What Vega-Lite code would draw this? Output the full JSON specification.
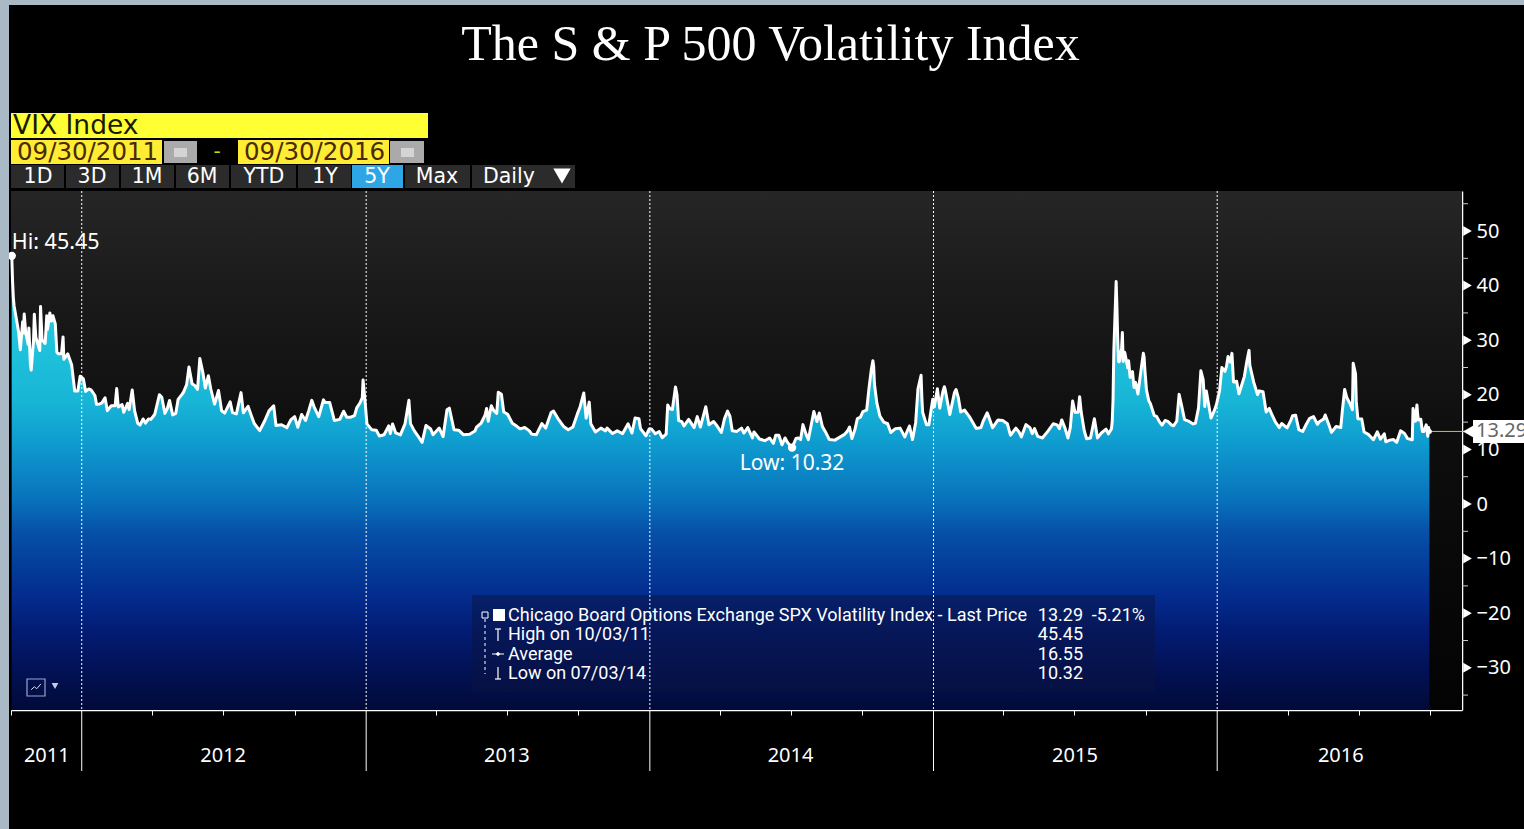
{
"$schema":"https://vega.github.io/schema/vega-lite/v6.json",
"width":1451,"height":519,
"autosize":{"type":"none"},
"padding":{"left":11,"top":191,"right":62,"bottom":119},
"background":"#000000",
"title":{"text":"The S & P 500 Volatility Index","font":"Liberation Serif","fontSize":50,"fontWeight":"normal","color":"#ffffff","anchor":"middle","frame":"group","dx":34,"offset":-110,"baseline":"alphabetic"},
"config":{"view":{"stroke":null},"text":{"font":"Noto Sans","color":"#ffffff"}},
"datasets":{
"vix":[
{"d":"2011-10-03","v":45.45},{"d":"2011-10-04","v":40.82},{"d":"2011-10-05","v":37.81},{"d":"2011-10-06","v":36.27},{"d":"2011-10-10","v":33.02},{"d":"2011-10-12","v":31.26},{"d":"2011-10-14","v":28.24},{"d":"2011-10-17","v":33.39},{"d":"2011-10-18","v":31.32},{"d":"2011-10-19","v":34.78},{"d":"2011-10-21","v":31.32},{"d":"2011-10-24","v":29.26},{"d":"2011-10-25","v":32.22},{"d":"2011-10-27","v":25.46},{"d":"2011-10-28","v":24.53},{"d":"2011-10-31","v":29.96},{"d":"2011-11-01","v":34.77},{"d":"2011-11-03","v":30.5},{"d":"2011-11-08","v":28.12},{"d":"2011-11-09","v":36.16},{"d":"2011-11-11","v":30.04},{"d":"2011-11-15","v":29.4},{"d":"2011-11-17","v":34.5},{"d":"2011-11-18","v":32},{"d":"2011-11-21","v":35},{"d":"2011-11-23","v":33.5},{"d":"2011-11-25","v":34.47},{"d":"2011-11-28","v":33},{"d":"2011-11-30","v":27.8},{"d":"2011-12-02","v":27.5},{"d":"2011-12-06","v":27.5},{"d":"2011-12-08","v":30.6},{"d":"2011-12-09","v":26.5},{"d":"2011-12-14","v":27.5},{"d":"2011-12-19","v":25.5},{"d":"2011-12-23","v":20.7},{"d":"2011-12-27","v":20.7},{"d":"2011-12-30","v":23.4},
{"d":"2012-01-03","v":22.97},{"d":"2012-01-06","v":20.63},{"d":"2012-01-10","v":21.07},{"d":"2012-01-13","v":20.91},{"d":"2012-01-18","v":19.87},{"d":"2012-01-20","v":18.28},{"d":"2012-01-24","v":18.31},{"d":"2012-01-27","v":18.53},{"d":"2012-01-31","v":19.44},{"d":"2012-02-03","v":17.1},{"d":"2012-02-08","v":18},{"d":"2012-02-13","v":18},{"d":"2012-02-15","v":21.14},{"d":"2012-02-17","v":17.78},{"d":"2012-02-22","v":18.2},{"d":"2012-02-24","v":16.8},{"d":"2012-02-29","v":18.43},{"d":"2012-03-02","v":17.29},{"d":"2012-03-06","v":20.87},{"d":"2012-03-09","v":17.11},{"d":"2012-03-13","v":14.8},{"d":"2012-03-16","v":14.47},{"d":"2012-03-20","v":15.58},{"d":"2012-03-23","v":14.82},{"d":"2012-03-27","v":15.59},{"d":"2012-03-30","v":15.5},{"d":"2012-04-04","v":16.44},{"d":"2012-04-10","v":20.02},{"d":"2012-04-13","v":19.55},{"d":"2012-04-17","v":16.6},{"d":"2012-04-20","v":17.44},{"d":"2012-04-23","v":18.97},{"d":"2012-04-27","v":16.32},{"d":"2012-05-01","v":16.6},{"d":"2012-05-04","v":19.16},{"d":"2012-05-09","v":20.08},{"d":"2012-05-11","v":20.5},{"d":"2012-05-15","v":21.87},{"d":"2012-05-18","v":25.1},{"d":"2012-05-22","v":22},{"d":"2012-05-25","v":21.76},{"d":"2012-05-29","v":21},{"d":"2012-06-01","v":26.66},{"d":"2012-06-05","v":24},{"d":"2012-06-08","v":21.23},{"d":"2012-06-12","v":23.5},{"d":"2012-06-15","v":21.11},{"d":"2012-06-20","v":18.3},{"d":"2012-06-25","v":20.8},{"d":"2012-06-29","v":17.08},{"d":"2012-07-03","v":16.66},{"d":"2012-07-10","v":18.7},{"d":"2012-07-13","v":16.74},{"d":"2012-07-18","v":16.5},{"d":"2012-07-24","v":20.4},{"d":"2012-07-27","v":16.7},{"d":"2012-08-02","v":17.9},{"d":"2012-08-07","v":15.9},{"d":"2012-08-10","v":14.74},{"d":"2012-08-17","v":13.45},{"d":"2012-08-23","v":15.1},{"d":"2012-08-29","v":17.06},{"d":"2012-09-04","v":17.98},{"d":"2012-09-07","v":14.38},{"d":"2012-09-14","v":14.51},{"d":"2012-09-21","v":13.98},{"d":"2012-09-26","v":15.4},{"d":"2012-10-01","v":16},{"d":"2012-10-05","v":14.06},{"d":"2012-10-10","v":16.4},{"d":"2012-10-15","v":15.3},{"d":"2012-10-19","v":17.06},{"d":"2012-10-23","v":18.99},{"d":"2012-10-26","v":17.81},{"d":"2012-11-01","v":16},{"d":"2012-11-07","v":19.08},{"d":"2012-11-09","v":18.61},{"d":"2012-11-15","v":18.6},{"d":"2012-11-21","v":15.3},{"d":"2012-11-28","v":15.5},{"d":"2012-12-03","v":17},{"d":"2012-12-07","v":15.9},{"d":"2012-12-12","v":15.9},{"d":"2012-12-17","v":16.2},{"d":"2012-12-20","v":17.67},{"d":"2012-12-24","v":18.5},{"d":"2012-12-27","v":19.47},{"d":"2012-12-28","v":22.72},{"d":"2012-12-31","v":18.02},
{"d":"2013-01-02","v":14.68},{"d":"2013-01-08","v":13.62},{"d":"2013-01-14","v":13.5},{"d":"2013-01-18","v":12.46},{"d":"2013-01-24","v":12.69},{"d":"2013-01-30","v":14.32},{"d":"2013-02-01","v":12.9},{"d":"2013-02-04","v":14.67},{"d":"2013-02-08","v":13.02},{"d":"2013-02-14","v":12.66},{"d":"2013-02-20","v":14.68},{"d":"2013-02-25","v":18.99},{"d":"2013-02-27","v":14.73},{"d":"2013-03-04","v":13.4},{"d":"2013-03-08","v":12.59},{"d":"2013-03-14","v":11.3},{"d":"2013-03-19","v":14.39},{"d":"2013-03-25","v":13.74},{"d":"2013-03-28","v":12.7},{"d":"2013-04-05","v":13.92},{"d":"2013-04-10","v":12.36},{"d":"2013-04-15","v":17.27},{"d":"2013-04-18","v":17.56},{"d":"2013-04-24","v":13.6},{"d":"2013-04-30","v":13.52},{"d":"2013-05-06","v":12.7},{"d":"2013-05-14","v":12.77},{"d":"2013-05-21","v":13.37},{"d":"2013-05-23","v":14.07},{"d":"2013-05-29","v":14.83},{"d":"2013-06-03","v":16.27},{"d":"2013-06-05","v":17.5},{"d":"2013-06-07","v":15.14},{"d":"2013-06-11","v":18.0},{"d":"2013-06-14","v":17.15},{"d":"2013-06-18","v":16.61},{"d":"2013-06-20","v":20.49},{"d":"2013-06-24","v":20.11},{"d":"2013-06-27","v":16.86},{"d":"2013-07-02","v":16.44},{"d":"2013-07-08","v":14.78},{"d":"2013-07-12","v":14.42},{"d":"2013-07-18","v":13.77},{"d":"2013-07-24","v":14.0},{"d":"2013-07-30","v":13.39},{"d":"2013-08-02","v":12.8},{"d":"2013-08-08","v":12.7},{"d":"2013-08-15","v":14.73},{"d":"2013-08-20","v":13.9},{"d":"2013-08-27","v":16.77},{"d":"2013-08-30","v":17.01},{"d":"2013-09-05","v":15.6},{"d":"2013-09-12","v":14.2},{"d":"2013-09-18","v":13.59},{"d":"2013-09-24","v":14.1},{"d":"2013-09-30","v":16.6},{"d":"2013-10-03","v":17.67},{"d":"2013-10-08","v":20.34},{"d":"2013-10-11","v":15.72},{"d":"2013-10-15","v":18.66},{"d":"2013-10-17","v":14.7},{"d":"2013-10-23","v":13.2},{"d":"2013-10-30","v":13.9},{"d":"2013-11-05","v":13.4},{"d":"2013-11-07","v":13.9},{"d":"2013-11-14","v":12.9},{"d":"2013-11-20","v":13.4},{"d":"2013-11-27","v":12.9},{"d":"2013-12-04","v":14.7},{"d":"2013-12-09","v":13.0},{"d":"2013-12-13","v":15.76},{"d":"2013-12-18","v":15.6},{"d":"2013-12-20","v":13.8},{"d":"2013-12-27","v":12.5},{"d":"2013-12-31","v":13.72},
{"d":"2014-01-03","v":13.76},{"d":"2014-01-08","v":12.87},{"d":"2014-01-13","v":13.28},{"d":"2014-01-17","v":12.14},{"d":"2014-01-22","v":12.8},{"d":"2014-01-24","v":18.14},{"d":"2014-01-27","v":17.42},{"d":"2014-01-30","v":17.3},{"d":"2014-02-03","v":21.44},{"d":"2014-02-05","v":19.95},{"d":"2014-02-07","v":15.29},{"d":"2014-02-11","v":15.1},{"d":"2014-02-14","v":14.3},{"d":"2014-02-20","v":15.5},{"d":"2014-02-27","v":14.0},{"d":"2014-03-03","v":16.0},{"d":"2014-03-07","v":14.1},{"d":"2014-03-14","v":17.82},{"d":"2014-03-18","v":14.5},{"d":"2014-03-24","v":15.1},{"d":"2014-03-28","v":14.4},{"d":"2014-04-03","v":13.1},{"d":"2014-04-07","v":15.6},{"d":"2014-04-11","v":17.03},{"d":"2014-04-14","v":16.1},{"d":"2014-04-17","v":13.4},{"d":"2014-04-23","v":13.3},{"d":"2014-04-29","v":13.9},{"d":"2014-05-02","v":13.0},{"d":"2014-05-07","v":14.0},{"d":"2014-05-13","v":12.1},{"d":"2014-05-15","v":13.2},{"d":"2014-05-22","v":11.9},{"d":"2014-05-29","v":11.6},{"d":"2014-06-04","v":12.1},{"d":"2014-06-09","v":11.1},{"d":"2014-06-12","v":12.6},{"d":"2014-06-16","v":12.6},{"d":"2014-06-20","v":10.85},{"d":"2014-06-24","v":12.1},{"d":"2014-06-27","v":11.3},{"d":"2014-07-03","v":10.32},{"d":"2014-07-08","v":12.0},{"d":"2014-07-11","v":12.1},{"d":"2014-07-14","v":11.8},{"d":"2014-07-17","v":14.54},{"d":"2014-07-21","v":12.8},{"d":"2014-07-24","v":11.8},{"d":"2014-07-31","v":16.95},{"d":"2014-08-04","v":15.1},{"d":"2014-08-07","v":16.66},{"d":"2014-08-11","v":14.2},{"d":"2014-08-15","v":13.2},{"d":"2014-08-20","v":11.8},{"d":"2014-08-27","v":11.7},{"d":"2014-09-02","v":12.2},{"d":"2014-09-08","v":12.7},{"d":"2014-09-12","v":13.3},{"d":"2014-09-15","v":14.1},{"d":"2014-09-18","v":12.0},{"d":"2014-09-22","v":13.7},{"d":"2014-09-25","v":15.64},{"d":"2014-09-29","v":15.9},{"d":"2014-10-02","v":16.9},{"d":"2014-10-07","v":17.2},{"d":"2014-10-10","v":21.24},{"d":"2014-10-13","v":24.64},{"d":"2014-10-15","v":26.25},{"d":"2014-10-16","v":25.2},{"d":"2014-10-17","v":21.99},{"d":"2014-10-20","v":18.57},{"d":"2014-10-24","v":16.1},{"d":"2014-10-29","v":15},{"d":"2014-11-03","v":14.7},{"d":"2014-11-07","v":13.1},{"d":"2014-11-13","v":13.8},{"d":"2014-11-19","v":13.9},{"d":"2014-11-25","v":12.3},{"d":"2014-12-01","v":14.29},{"d":"2014-12-05","v":11.8},{"d":"2014-12-09","v":14.9},{"d":"2014-12-12","v":21.08},{"d":"2014-12-16","v":23.57},{"d":"2014-12-17","v":19.44},{"d":"2014-12-18","v":16.81},{"d":"2014-12-23","v":14.5},{"d":"2014-12-26","v":14.5},{"d":"2014-12-31","v":19.2},
{"d":"2015-01-02","v":17.79},{"d":"2015-01-06","v":21.12},{"d":"2015-01-09","v":17.55},{"d":"2015-01-13","v":20.56},{"d":"2015-01-15","v":21.48},{"d":"2015-01-16","v":20.95},{"d":"2015-01-22","v":16.4},{"d":"2015-01-28","v":20.44},{"d":"2015-01-30","v":20.97},{"d":"2015-02-02","v":19.43},{"d":"2015-02-05","v":16.85},{"d":"2015-02-10","v":17.2},{"d":"2015-02-17","v":15.8},{"d":"2015-02-25","v":13.84},{"d":"2015-03-03","v":14.0},{"d":"2015-03-06","v":15.2},{"d":"2015-03-11","v":16.69},{"d":"2015-03-13","v":16.0},{"d":"2015-03-18","v":13.97},{"d":"2015-03-25","v":15.4},{"d":"2015-03-31","v":15.3},{"d":"2015-04-06","v":14.7},{"d":"2015-04-10","v":12.6},{"d":"2015-04-17","v":13.9},{"d":"2015-04-21","v":13.2},{"d":"2015-04-24","v":12.3},{"d":"2015-04-30","v":14.55},{"d":"2015-05-05","v":14.0},{"d":"2015-05-08","v":12.9},{"d":"2015-05-11","v":13.8},{"d":"2015-05-15","v":12.4},{"d":"2015-05-21","v":12.1},{"d":"2015-05-28","v":13.3},{"d":"2015-06-04","v":14.7},{"d":"2015-06-09","v":14.5},{"d":"2015-06-12","v":13.8},{"d":"2015-06-15","v":15.4},{"d":"2015-06-19","v":13.96},{"d":"2015-06-23","v":12.1},{"d":"2015-06-26","v":14.0},{"d":"2015-06-29","v":18.85},{"d":"2015-07-02","v":16.8},{"d":"2015-07-06","v":16.8},{"d":"2015-07-08","v":19.66},{"d":"2015-07-10","v":16.83},{"d":"2015-07-14","v":13.37},{"d":"2015-07-17","v":11.95},{"d":"2015-07-22","v":12.1},{"d":"2015-07-27","v":15.6},{"d":"2015-07-31","v":12.1},{"d":"2015-08-05","v":13.0},{"d":"2015-08-11","v":13.7},{"d":"2015-08-14","v":12.83},{"d":"2015-08-18","v":13.79},{"d":"2015-08-19","v":15.25},{"d":"2015-08-20","v":19.14},{"d":"2015-08-21","v":28.03},{"d":"2015-08-24","v":40.74},{"d":"2015-08-25","v":36.02},{"d":"2015-08-26","v":30.32},{"d":"2015-08-27","v":26.1},{"d":"2015-08-28","v":26.05},{"d":"2015-08-31","v":28.43},{"d":"2015-09-01","v":31.4},{"d":"2015-09-02","v":26.09},{"d":"2015-09-04","v":27.8},{"d":"2015-09-08","v":24.9},{"d":"2015-09-09","v":26.23},{"d":"2015-09-11","v":23.2},{"d":"2015-09-14","v":24.25},{"d":"2015-09-16","v":21.35},{"d":"2015-09-18","v":22.28},{"d":"2015-09-21","v":20.14},{"d":"2015-09-24","v":23.47},{"d":"2015-09-28","v":27.63},{"d":"2015-09-29","v":26.83},{"d":"2015-09-30","v":24.5},{"d":"2015-10-02","v":20.9},{"d":"2015-10-05","v":18.9},{"d":"2015-10-07","v":18.4},{"d":"2015-10-12","v":16.2},{"d":"2015-10-15","v":16.05},{"d":"2015-10-19","v":15.0},{"d":"2015-10-22","v":14.45},{"d":"2015-10-26","v":15.3},{"d":"2015-10-30","v":15.07},{"d":"2015-11-03","v":14.5},{"d":"2015-11-06","v":14.33},{"d":"2015-11-10","v":15.2},{"d":"2015-11-13","v":20.08},{"d":"2015-11-16","v":18.16},{"d":"2015-11-20","v":15.47},{"d":"2015-11-25","v":15.19},{"d":"2015-12-01","v":14.67},{"d":"2015-12-04","v":14.8},{"d":"2015-12-08","v":17.6},{"d":"2015-12-11","v":24.39},{"d":"2015-12-14","v":22.73},{"d":"2015-12-16","v":17.86},{"d":"2015-12-18","v":20.7},{"d":"2015-12-24","v":15.74},{"d":"2015-12-28","v":17.0},{"d":"2015-12-31","v":18.21},
{"d":"2016-01-04","v":20.7},{"d":"2016-01-07","v":24.99},{"d":"2016-01-11","v":24.3},{"d":"2016-01-13","v":25.22},{"d":"2016-01-15","v":27.02},{"d":"2016-01-18","v":26.0},{"d":"2016-01-20","v":27.59},{"d":"2016-01-22","v":22.34},{"d":"2016-01-26","v":22.5},{"d":"2016-01-29","v":20.2},{"d":"2016-02-02","v":21.98},{"d":"2016-02-05","v":23.38},{"d":"2016-02-08","v":26},{"d":"2016-02-11","v":28.14},{"d":"2016-02-12","v":25.4},{"d":"2016-02-17","v":22.31},{"d":"2016-02-22","v":20},{"d":"2016-02-24","v":20.72},{"d":"2016-02-29","v":20.55},{"d":"2016-03-04","v":16.86},{"d":"2016-03-08","v":17.5},{"d":"2016-03-11","v":16.5},{"d":"2016-03-16","v":14.99},{"d":"2016-03-21","v":14.0},{"d":"2016-03-24","v":14.74},{"d":"2016-03-31","v":13.95},{"d":"2016-04-05","v":15.42},{"d":"2016-04-07","v":16.16},{"d":"2016-04-11","v":16.26},{"d":"2016-04-15","v":13.62},{"d":"2016-04-20","v":13.28},{"d":"2016-04-25","v":14.7},{"d":"2016-04-29","v":15.7},{"d":"2016-05-04","v":16},{"d":"2016-05-09","v":14.6},{"d":"2016-05-11","v":15},{"d":"2016-05-17","v":15.57},{"d":"2016-05-19","v":16.3},{"d":"2016-05-24","v":14.4},{"d":"2016-05-27","v":13.12},{"d":"2016-06-02","v":14.2},{"d":"2016-06-08","v":14.0},{"d":"2016-06-10","v":17.03},{"d":"2016-06-13","v":20.97},{"d":"2016-06-16","v":19.4},{"d":"2016-06-20","v":18.37},{"d":"2016-06-23","v":17.25},{"d":"2016-06-24","v":25.76},{"d":"2016-06-27","v":23.85},{"d":"2016-06-28","v":18.75},{"d":"2016-06-30","v":15.63},{"d":"2016-07-05","v":15.58},{"d":"2016-07-08","v":13.2},{"d":"2016-07-14","v":12.7},{"d":"2016-07-20","v":11.77},{"d":"2016-07-25","v":13.2},{"d":"2016-07-29","v":11.87},{"d":"2016-08-03","v":12.86},{"d":"2016-08-05","v":11.39},{"d":"2016-08-10","v":11.7},{"d":"2016-08-15","v":11.81},{"d":"2016-08-19","v":11.3},{"d":"2016-08-24","v":13.4},{"d":"2016-08-29","v":12.9},{"d":"2016-09-02","v":11.98},{"d":"2016-09-08","v":11.76},{"d":"2016-09-09","v":17.5},{"d":"2016-09-12","v":15.16},{"d":"2016-09-14","v":18.14},{"d":"2016-09-15","v":16.3},{"d":"2016-09-16","v":15.37},{"d":"2016-09-19","v":15.53},{"d":"2016-09-21","v":13.3},{"d":"2016-09-23","v":13.3},{"d":"2016-09-26","v":14.5},{"d":"2016-09-28","v":12.39},{"d":"2016-09-29","v":14.02},{"d":"2016-09-30","v":13.29}],
"years":[{"d":"2012-01-01"},{"d":"2013-01-01"},{"d":"2014-01-01"},{"d":"2015-01-01"},{"d":"2016-01-01"}],
"yearLabels":[{"d":"2011-11-17","label":"2011"},{"d":"2012-07-01","label":"2012"},{"d":"2013-07-01","label":"2013"},{"d":"2014-07-01","label":"2014"},{"d":"2015-07-02","label":"2015"},{"d":"2016-06-08","label":"2016"}],
"majors":[{"v":50},{"v":40},{"v":30},{"v":20},{"v":10},{"v":0},{"v":-10},{"v":-20},{"v":-30}],
"minors":[{"v":55},{"v":45},{"v":35},{"v":25},{"v":15},{"v":5},{"v":-5},{"v":-15},{"v":-25},{"v":-35}],
"hiLow":[{"d":"2011-10-03","v":45.45,"label":"Hi: 45.45"},{"d":"2014-07-03","v":10.32,"label":"Low: 10.32"}],
"last":[{"d":"2016-09-30","v":13.29,"label":"13.29"}],
"one":[{}]
},
"layer":[
{"data":{"name":"one"},"mark":{"type":"rect","fill":{"gradient":"linear","x1":0,"y1":0,"x2":0,"y2":1,"stops":[{"offset":0,"color":"#262626"},{"offset":0.2,"color":"#1a1a1a"},{"offset":0.5,"color":"#0d0d0d"},{"offset":1,"color":"#030303"}]}},"encoding":{"x":{"value":0},"x2":{"value":1451},"y":{"value":0},"y2":{"value":519}}},
{"data":{"name":"vix"},"mark":{"type":"area","interpolate":"linear","color":{"gradient":"linear","x1":0,"y1":0,"x2":0,"y2":1,"stops":[{"offset":0,"color":"#2ad6e6"},{"offset":0.317,"color":"#18b6d6"},{"offset":0.405,"color":"#0f9ed0"},{"offset":0.537,"color":"#0872bc"},{"offset":0.61,"color":"#0650a8"},{"offset":0.685,"color":"#043c9a"},{"offset":0.758,"color":"#032a8c"},{"offset":0.824,"color":"#021c74"},{"offset":0.905,"color":"#021258"},{"offset":1,"color":"#010a38"}]}},
"encoding":{"x":{"field":"d","type":"temporal","title":null,"scale":{"type":"utc","domain":[{"year":2011,"month":10,"date":2,"utc":true},{"year":2016,"month":11,"date":11,"utc":true}]},
"axis":{"orient":"bottom","title":null,"labels":false,"grid":false,"domainColor":"#ffffff","domainWidth":1.5,"tickColor":"#ffffff","tickSize":5,"tickWidth":1,"values":[{"year":2011,"month":10,"date":2,"utc":true},{"year":2012,"month":4,"date":1,"utc":true},{"year":2012,"month":7,"date":1,"utc":true},{"year":2012,"month":10,"date":1,"utc":true},{"year":2013,"month":4,"date":1,"utc":true},{"year":2013,"month":7,"date":1,"utc":true},{"year":2013,"month":10,"date":1,"utc":true},{"year":2014,"month":4,"date":1,"utc":true},{"year":2014,"month":7,"date":1,"utc":true},{"year":2014,"month":10,"date":1,"utc":true},{"year":2015,"month":4,"date":1,"utc":true},{"year":2015,"month":7,"date":1,"utc":true},{"year":2015,"month":10,"date":1,"utc":true},{"year":2016,"month":4,"date":1,"utc":true},{"year":2016,"month":7,"date":1,"utc":true},{"year":2016,"month":10,"date":1,"utc":true}]}},
"y":{"field":"v","type":"quantitative","title":null,"scale":{"domain":[-37.73,57.33],"nice":false,"zero":false},
"axis":{"orient":"right","title":null,"grid":false,"values":[50,40,30,20,10,0,-10,-20,-30],"labels":true,"labelFont":"Noto Sans","labelFontSize":20,"labelColor":"#ffffff","labelPadding":14,"labelOverlap":false,"domainColor":"#ffffff","domainWidth":1.5,"ticks":false}},
"y2":{"datum":-37.73}}},
{"data":{"name":"vix"},"mark":{"type":"line","interpolate":"linear","color":"#ffffff","strokeWidth":3,"strokeJoin":"round"},"encoding":{"x":{"field":"d","type":"temporal"},"y":{"field":"v","type":"quantitative"}}},
{"data":{"name":"one"},"mark":{"type":"rect","fill":"#0a1440","fillOpacity":0.5},"encoding":{"x":{"value":461},"x2":{"value":1144},"y":{"value":404},"y2":{"value":501}}},
{"data":{"name":"years"},"mark":{"type":"rule","color":"#ffffff","strokeWidth":1,"strokeDash":[2,2]},"encoding":{"x":{"field":"d","type":"temporal"},"y":{"value":0},"y2":{"value":519}}},
{"data":{"name":"years"},"mark":{"type":"rule","color":"#ffffff","strokeWidth":1},"encoding":{"x":{"field":"d","type":"temporal"},"y":{"value":519},"y2":{"value":580}}},
{"data":{"name":"yearLabels"},"mark":{"type":"text","fontSize":20,"baseline":"middle","align":"center"},"encoding":{"x":{"field":"d","type":"temporal"},"y":{"value":565},"text":{"field":"label"}}},
{"data":{"name":"majors"},"mark":{"type":"point","shape":"triangle-right","filled":true,"color":"#ffffff","opacity":1,"size":100},"encoding":{"x":{"value":1456.5},"y":{"field":"v","type":"quantitative"}}},
{"data":{"name":"minors"},"mark":{"type":"rule","color":"#cccccc","strokeWidth":1},"encoding":{"x":{"value":1451},"x2":{"value":1457},"y":{"field":"v","type":"quantitative"}}},
{"data":{"name":"hiLow"},"mark":{"type":"point","filled":true,"color":"#ffffff","opacity":1,"size":70},"encoding":{"x":{"field":"d","type":"temporal"},"y":{"field":"v","type":"quantitative"}}},
{"data":{"name":"hiLow"},"transform":[{"filter":"datum.v > 40"}],"mark":{"type":"text","fontSize":21.5,"align":"left","baseline":"middle","dx":0,"dy":-13},"encoding":{"x":{"field":"d","type":"temporal"},"y":{"field":"v","type":"quantitative"},"text":{"field":"label"}}},
{"data":{"name":"hiLow"},"transform":[{"filter":"datum.v < 40"}],"mark":{"type":"text","fontSize":21,"align":"center","baseline":"middle","dy":16},"encoding":{"x":{"field":"d","type":"temporal"},"y":{"field":"v","type":"quantitative"},"text":{"field":"label"}}},
{"data":{"name":"last"},"mark":{"type":"rule","color":"#c8c820","strokeWidth":1},"encoding":{"x":{"field":"d","type":"temporal"},"x2":{"value":1456},"y":{"field":"v","type":"quantitative"}}},
{"data":{"name":"last"},"mark":{"type":"point","filled":true,"color":"#ffffff","opacity":1,"size":25},"encoding":{"x":{"field":"d","type":"temporal"},"y":{"field":"v","type":"quantitative"}}},
{"data":{"name":"last"},"mark":{"type":"point","shape":"triangle-left","filled":true,"color":"#ffffff","opacity":1,"size":530},"encoding":{"x":{"value":1462},"y":{"field":"v","type":"quantitative"}}},
{"data":{"name":"one"},"mark":{"type":"rect","fill":"#ffffff"},"encoding":{"x":{"value":1462},"x2":{"value":1513},"y":{"value":229},"y2":{"value":252}}},
{"data":{"name":"last"},"mark":{"type":"text","fontSize":20,"color":"#666666","align":"left","baseline":"middle"},"encoding":{"x":{"value":1465},"y":{"field":"v","type":"quantitative"},"text":{"field":"label"}}},

{"data":{"values":[{"label":"Chicago Board Options Exchange SPX Volatility Index  -  Last Price"}]},"mark":{"type":"text","font":"Roboto","fontSize":18,"align":"left","baseline":"middle"},"encoding":{"x":{"value":497},"y":{"value":425},"text":{"field":"label"}}},
{"data":{"values":[{"label":"13.29"}]},"mark":{"type":"text","font":"Roboto","fontSize":18,"align":"right","baseline":"middle"},"encoding":{"x":{"value":1072},"y":{"value":425},"text":{"field":"label"}}},
{"data":{"values":[{"label":"-5.21%"}]},"mark":{"type":"text","font":"Roboto","fontSize":18,"align":"right","baseline":"middle"},"encoding":{"x":{"value":1134},"y":{"value":425},"text":{"field":"label"}}},
{"data":{"values":[{"label":"High on 10/03/11"}]},"mark":{"type":"text","font":"Roboto","fontSize":18,"align":"left","baseline":"middle"},"encoding":{"x":{"value":497},"y":{"value":444},"text":{"field":"label"}}},
{"data":{"values":[{"label":"45.45"}]},"mark":{"type":"text","font":"Roboto","fontSize":18,"align":"right","baseline":"middle"},"encoding":{"x":{"value":1072},"y":{"value":444},"text":{"field":"label"}}},
{"data":{"values":[{"label":"Average"}]},"mark":{"type":"text","font":"Roboto","fontSize":18,"align":"left","baseline":"middle"},"encoding":{"x":{"value":497},"y":{"value":464},"text":{"field":"label"}}},
{"data":{"values":[{"label":"16.55"}]},"mark":{"type":"text","font":"Roboto","fontSize":18,"align":"right","baseline":"middle"},"encoding":{"x":{"value":1072},"y":{"value":464},"text":{"field":"label"}}},
{"data":{"values":[{"label":"Low on 07/03/14"}]},"mark":{"type":"text","font":"Roboto","fontSize":18,"align":"left","baseline":"middle"},"encoding":{"x":{"value":497},"y":{"value":483},"text":{"field":"label"}}},
{"data":{"values":[{"label":"10.32"}]},"mark":{"type":"text","font":"Roboto","fontSize":18,"align":"right","baseline":"middle"},"encoding":{"x":{"value":1072},"y":{"value":483},"text":{"field":"label"}}},
{"data":{"name":"one"},"mark":{"type":"rect","fill":"#ffffff"},"encoding":{"x":{"value":482},"x2":{"value":494},"y":{"value":418},"y2":{"value":430}}},
{"data":{"name":"one"},"mark":{"type":"rect","stroke":"#ffffff","strokeWidth":1,"fillOpacity":0},"encoding":{"x":{"value":471},"x2":{"value":477},"y":{"value":421},"y2":{"value":427}}},
{"data":{"name":"one"},"mark":{"type":"rule","color":"#ffffff","strokeWidth":1,"strokeDash":[3,3]},"encoding":{"x":{"value":474},"y":{"value":428},"y2":{"value":483}}},
{"data":{"name":"one"},"mark":{"type":"rule","color":"#ffffff","strokeWidth":1.2},"encoding":{"x":{"value":487},"y":{"value":438},"y2":{"value":450}}},
{"data":{"name":"one"},"mark":{"type":"rule","color":"#ffffff","strokeWidth":1.2},"encoding":{"x":{"value":484},"x2":{"value":490},"y":{"value":438}}},
{"data":{"name":"one"},"mark":{"type":"point","shape":"diamond","filled":true,"color":"#ffffff","opacity":1,"size":22},"encoding":{"x":{"value":487},"y":{"value":463}}},
{"data":{"name":"one"},"mark":{"type":"rule","color":"#ffffff","strokeWidth":1},"encoding":{"x":{"value":481},"x2":{"value":493},"y":{"value":463}}},
{"data":{"name":"one"},"mark":{"type":"rule","color":"#ffffff","strokeWidth":1.2},"encoding":{"x":{"value":487},"y":{"value":476},"y2":{"value":488}}},
{"data":{"name":"one"},"mark":{"type":"rule","color":"#ffffff","strokeWidth":1.2},"encoding":{"x":{"value":484},"x2":{"value":490},"y":{"value":488}}},

{"data":{"name":"one"},"mark":{"type":"rect","stroke":"#9aa4d0","strokeWidth":1.2,"fillOpacity":0},"encoding":{"x":{"value":16},"x2":{"value":34},"y":{"value":488},"y2":{"value":505}}},
{"data":{"name":"one"},"mark":{"type":"point","shape":"M-0.8,0.45L-0.25,-0.05L0.1,0.3L0.8,-0.5","filled":false,"color":"#d8dcf0","opacity":1,"size":150,"strokeWidth":1},"encoding":{"x":{"value":25},"y":{"value":496}}},
{"data":{"name":"one"},"mark":{"type":"point","shape":"triangle-down","filled":true,"color":"#c8cce0","opacity":1,"size":45},"encoding":{"x":{"value":44},"y":{"value":495}}},

{"data":{"name":"one"},"mark":{"type":"rect","fill":"#a9b9c6"},"encoding":{"x":{"value":-11},"x2":{"value":-2},"y":{"value":-191},"y2":{"value":638}}},
{"data":{"name":"one"},"mark":{"type":"rect","fill":"#a9b9c6"},"encoding":{"x":{"value":-11},"x2":{"value":1513},"y":{"value":-191},"y2":{"value":-186}}},

{"data":{"name":"one"},"mark":{"type":"rect","fill":"#ffff33"},"encoding":{"x":{"value":0},"x2":{"value":417},"y":{"value":-78},"y2":{"value":-53}}},
{"data":{"values":[{"label":"VIX Index"}]},"mark":{"type":"text","font":"DejaVu Sans","fontSize":26.5,"color":"#1a1a00","align":"left","baseline":"middle"},"encoding":{"x":{"value":2},"y":{"value":-65},"text":{"field":"label"}}},
{"data":{"name":"one"},"mark":{"type":"rect","fill":"#ffec33"},"encoding":{"x":{"value":0},"x2":{"value":151},"y":{"value":-51},"y2":{"value":-27}}},
{"data":{"name":"one"},"mark":{"type":"rect","fill":"#ffec33"},"encoding":{"x":{"value":227},"x2":{"value":378},"y":{"value":-51},"y2":{"value":-27}}},
{"data":{"values":[{"label":"09/30/2011"}]},"mark":{"type":"text","font":"DejaVu Sans","fontSize":24.5,"color":"#4a2a00","align":"left","baseline":"middle"},"encoding":{"x":{"value":6},"y":{"value":-38},"text":{"field":"label"}}},
{"data":{"values":[{"label":"09/30/2016"}]},"mark":{"type":"text","font":"DejaVu Sans","fontSize":24.5,"color":"#4a2a00","align":"left","baseline":"middle"},"encoding":{"x":{"value":233},"y":{"value":-38},"text":{"field":"label"}}},
{"data":{"values":[{"label":"-"}]},"mark":{"type":"text","font":"DejaVu Sans","fontSize":20,"color":"#d8d800","align":"center","baseline":"middle"},"encoding":{"x":{"value":206},"y":{"value":-39},"text":{"field":"label"}}},
{"data":{"name":"one"},"mark":{"type":"rect","fill":"#aaaaaa"},"encoding":{"x":{"value":153},"x2":{"value":186},"y":{"value":-50},"y2":{"value":-28}}},
{"data":{"name":"one"},"mark":{"type":"rect","fill":"#aaaaaa"},"encoding":{"x":{"value":379},"x2":{"value":413},"y":{"value":-50},"y2":{"value":-28}}},
{"data":{"name":"one"},"mark":{"type":"rect","fill":"#d4d4d4"},"encoding":{"x":{"value":163},"x2":{"value":176},"y":{"value":-43},"y2":{"value":-34}}},
{"data":{"name":"one"},"mark":{"type":"rect","fill":"#d4d4d4"},"encoding":{"x":{"value":390},"x2":{"value":403},"y":{"value":-43},"y2":{"value":-34}}},

{"data":{"name":"one"},"mark":{"type":"rect","fill":"#2b2b2b"},"encoding":{"x":{"value":0},"x2":{"value":53},"y":{"value":-26},"y2":{"value":-3}}},
{"data":{"name":"one"},"mark":{"type":"rect","fill":"#2b2b2b"},"encoding":{"x":{"value":55},"x2":{"value":108},"y":{"value":-26},"y2":{"value":-3}}},
{"data":{"name":"one"},"mark":{"type":"rect","fill":"#2b2b2b"},"encoding":{"x":{"value":110},"x2":{"value":163},"y":{"value":-26},"y2":{"value":-3}}},
{"data":{"name":"one"},"mark":{"type":"rect","fill":"#2b2b2b"},"encoding":{"x":{"value":165},"x2":{"value":218},"y":{"value":-26},"y2":{"value":-3}}},
{"data":{"name":"one"},"mark":{"type":"rect","fill":"#2b2b2b"},"encoding":{"x":{"value":220},"x2":{"value":285},"y":{"value":-26},"y2":{"value":-3}}},
{"data":{"name":"one"},"mark":{"type":"rect","fill":"#2b2b2b"},"encoding":{"x":{"value":287},"x2":{"value":340},"y":{"value":-26},"y2":{"value":-3}}},
{"data":{"name":"one"},"mark":{"type":"rect","fill":"#2ea6e6"},"encoding":{"x":{"value":341},"x2":{"value":392},"y":{"value":-26},"y2":{"value":-3}}},
{"data":{"name":"one"},"mark":{"type":"rect","fill":"#2b2b2b"},"encoding":{"x":{"value":394},"x2":{"value":459},"y":{"value":-26},"y2":{"value":-3}}},
{"data":{"name":"one"},"mark":{"type":"rect","fill":"#2b2b2b"},"encoding":{"x":{"value":461},"x2":{"value":564},"y":{"value":-26},"y2":{"value":-3}}},
{"data":{"values":[{"label":"1D"}]},"mark":{"type":"text","font":"DejaVu Sans","fontSize":20.5,"align":"center","baseline":"middle"},"encoding":{"x":{"value":27},"y":{"value":-14},"text":{"field":"label"}}},
{"data":{"values":[{"label":"3D"}]},"mark":{"type":"text","font":"DejaVu Sans","fontSize":20.5,"align":"center","baseline":"middle"},"encoding":{"x":{"value":81},"y":{"value":-14},"text":{"field":"label"}}},
{"data":{"values":[{"label":"1M"}]},"mark":{"type":"text","font":"DejaVu Sans","fontSize":20.5,"align":"center","baseline":"middle"},"encoding":{"x":{"value":136},"y":{"value":-14},"text":{"field":"label"}}},
{"data":{"values":[{"label":"6M"}]},"mark":{"type":"text","font":"DejaVu Sans","fontSize":20.5,"align":"center","baseline":"middle"},"encoding":{"x":{"value":191},"y":{"value":-14},"text":{"field":"label"}}},
{"data":{"values":[{"label":"YTD"}]},"mark":{"type":"text","font":"DejaVu Sans","fontSize":20.5,"align":"center","baseline":"middle"},"encoding":{"x":{"value":253},"y":{"value":-14},"text":{"field":"label"}}},
{"data":{"values":[{"label":"1Y"}]},"mark":{"type":"text","font":"DejaVu Sans","fontSize":20.5,"align":"center","baseline":"middle"},"encoding":{"x":{"value":314},"y":{"value":-14},"text":{"field":"label"}}},
{"data":{"values":[{"label":"5Y"}]},"mark":{"type":"text","font":"DejaVu Sans","fontSize":20.5,"align":"center","baseline":"middle"},"encoding":{"x":{"value":366},"y":{"value":-14},"text":{"field":"label"}}},
{"data":{"values":[{"label":"Max"}]},"mark":{"type":"text","font":"DejaVu Sans","fontSize":20.5,"align":"center","baseline":"middle"},"encoding":{"x":{"value":426},"y":{"value":-14},"text":{"field":"label"}}},
{"data":{"values":[{"label":"Daily"}]},"mark":{"type":"text","font":"DejaVu Sans","fontSize":20.5,"align":"left","baseline":"middle"},"encoding":{"x":{"value":472},"y":{"value":-14},"text":{"field":"label"}}},
{"data":{"name":"one"},"mark":{"type":"point","shape":"triangle-down","filled":true,"color":"#ffffff","opacity":1,"size":300},"encoding":{"x":{"value":551},"y":{"value":-15}}}
]
}
